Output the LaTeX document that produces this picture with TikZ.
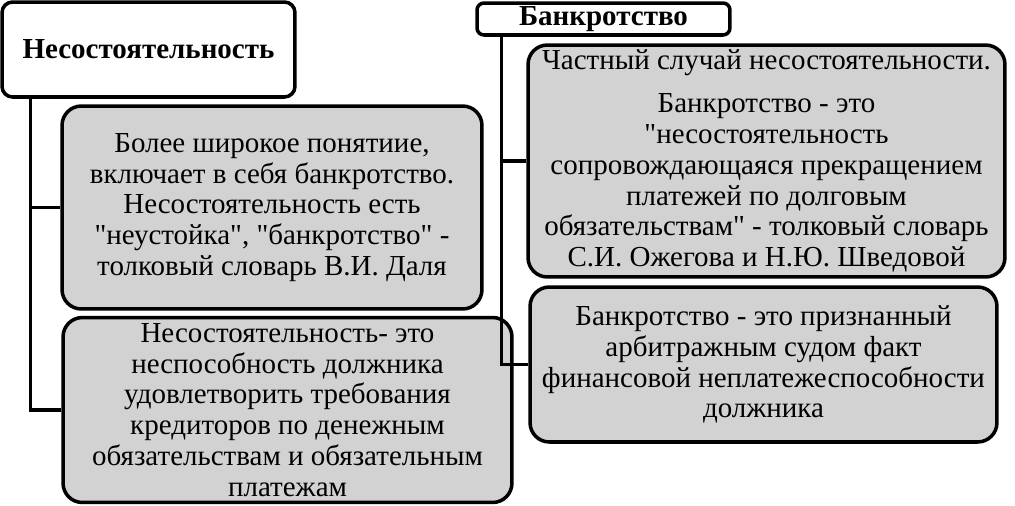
\documentclass[tikz,border=0pt]{standalone}
\usepackage{fontspec}
\setmainfont{Liberation Serif}
\usepackage{tikz}
\usetikzlibrary{positioning,calc}
\definecolor{boxgray}{RGB}{210,210,210}
\newcommand{\q}{\textquotedbl}
\tikzset{
    head/.style={draw, line width=2pt, fill=white, rounded corners=6pt, inner sep=0pt, font=\fontsize{16.5}{17}\selectfont\bfseries},
    card/.style={draw, line width=2pt, fill=boxgray, rounded corners=11pt, align=center, inner sep=0pt, font=\fontsize{16.5}{17.5}\selectfont},
    link/.style={line width=2pt, black}
}
\begin{document}
\begin{tikzpicture}[x=0.02cm, y=-0.02cm]
        \useasboundingbox (0,0) rectangle (1015,505);
        % headers
        \node[head, minimum width=5.86cm, minimum height=1.9cm] (insolv) at (148.5,49.5) {Несостоятельность};
        \node[head, minimum width=5.06cm, minimum height=0.64cm, rounded corners=4pt] (bankr) at (603.5,19) {Банкротство};
        
        % left column
        \node[card, minimum width=8.4cm, minimum height=4.06cm] (wide) at (272,207.5)
            {Более широкое понятиие,\\ включает в себя банкротство.\\ Несостоятельность есть\\ \q неустойка\q, \q банкротство\q\ -\\ толковый словарь В.И. Даля};
        \node[card, minimum width=8.98cm, minimum height=3.7cm] (unable) at (287.5,410)
            {Несостоятельность- это\\ неспособность должника\\ удовлетворить требования\\ кредиторов по денежным\\ обязательствам и обязательным\\ платежам};
        
        % right column
        \node[card, minimum width=9.54cm, minimum height=4.64cm] (special) at (766.5,161)
            {Частный случай несостоятельности.\\[7pt] Банкротство - это\\ \q несостоятельность\\ сопровождающаяся прекращением\\ платежей по долговым\\ обязательствам\q\ - толковый словарь\\ С.И. Ожегова и Н.Ю. Шведовой};
        \node[card, minimum width=9.34cm, minimum height=3.1cm] (court) at (763.5,364.5)
            {Банкротство - это признанный\\ арбитражным судом факт\\ финансовой неплатежеспособности\\ должника};
        
        \draw[link] ([xshift=0.6cm]insolv.south west) |- (wide.west);
        \draw[link] ([xshift=0.6cm]insolv.south west) |- (unable.west);
        \draw[link] ([xshift=0.52cm]bankr.south west) |- (special.west);
        \draw[link] ([xshift=0.52cm]bankr.south west) |- (court.west);
    \end{tikzpicture}
\end{document}
